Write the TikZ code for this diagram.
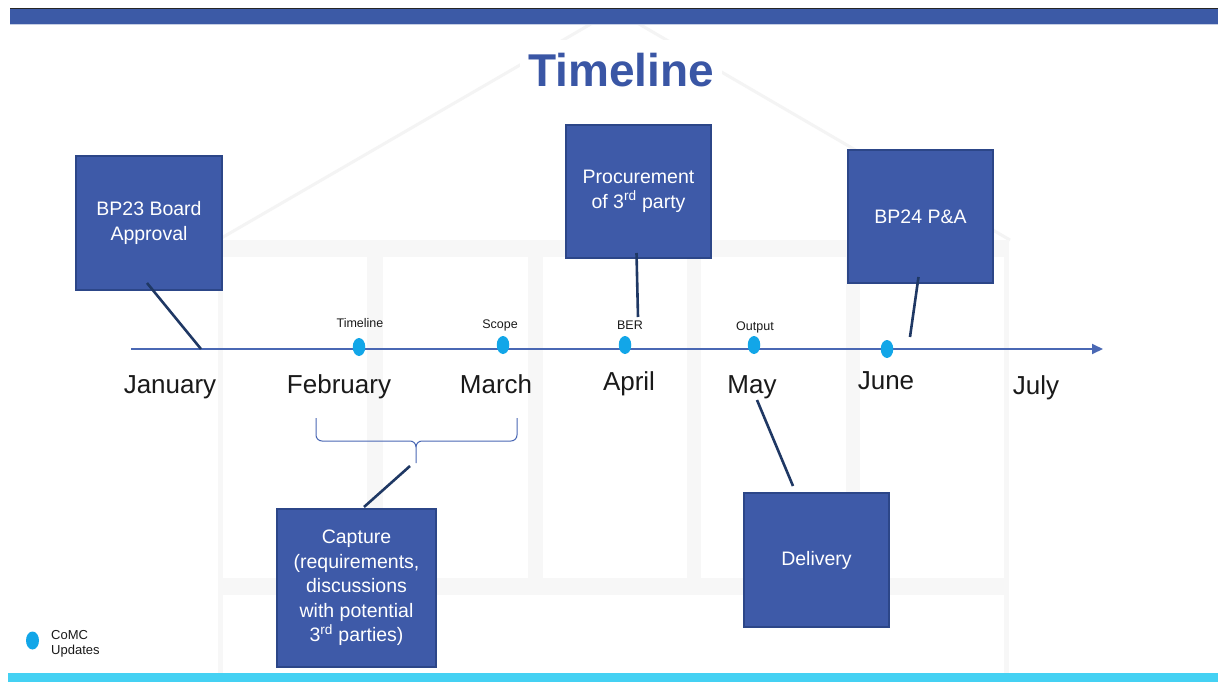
\documentclass[tikz,border=0pt]{standalone}
\usepackage{fontspec}
\setmainfont{Liberation Sans}
\usetikzlibrary{arrows.meta,shapes.geometric}
\definecolor{boxfill}{HTML}{3E5AA8}
\definecolor{boxborder}{HTML}{2C4688}
\definecolor{navy}{HTML}{1F3864}
\definecolor{axisblue}{HTML}{4A68B4}
\definecolor{dotcyan}{HTML}{12A6E8}
\definecolor{topblue}{HTML}{3C5AA6}
\definecolor{bottomcyan}{HTML}{44D1F3}
\definecolor{titleblue}{HTML}{3A56A5}
\definecolor{gapgrey}{HTML}{F7F7F7}
\definecolor{roofgrey}{HTML}{F4F4F4}
\definecolor{textdark}{HTML}{1A1A1A}
\tikzset{
  box/.style={draw=boxborder, line width=1.6pt, fill=boxfill, text=white,
    inner sep=0pt, align=center, font=\fontsize{19.5}{24.5}\selectfont},
  conn/.style={draw=navy, line width=2.6pt},
  dot/.style={ellipse, fill=dotcyan, inner sep=0pt, minimum width=12.5pt, minimum height=18pt},
  month/.style={anchor=base, text=textdark, inner sep=0pt, font=\fontsize{26}{30}\selectfont},
  small/.style={anchor=base, text=textdark, inner sep=0pt, font=\fontsize{12.5}{15}\selectfont},
}
\begin{document}
\begin{tikzpicture}[x=1pt,y=-1pt]
\useasboundingbox (0,0) rectangle (1218,682);
\fill[white] (0,0) rectangle (1218,682);
% faint background building
\draw[roofgrey, line width=3pt] (218,240) -- (615,10) -- (1010,240);
\fill[gapgrey] (218,240) rectangle (1009,673);
\foreach \a/\b in {223/367,383/528,543/687,701/846,860/1004}{
  \fill[white] (\a,257) rectangle (\b,578);
}
\fill[white] (223,595) rectangle (1004,673);
% top and bottom bars
\fill[black!85] (10,8) rectangle (1218,9.5);
\fill[topblue] (10,9.5) rectangle (1218,24);
\fill[topblue!30] (10,24) rectangle (1218,25.5);
\fill[bottomcyan] (8,673) rectangle (1218,682);
% title
\fill[white] (520,40) rectangle (722,96);
\node[anchor=base, text=titleblue, inner sep=0pt, font=\fontsize{46}{50}\selectfont\bfseries] (title) at (621,87) {Timeline};
% axis
\coordinate (axstart) at (131,349);
\coordinate (axend) at (1103,349);
\draw[axisblue, line width=1.8pt, -{Triangle[length=11pt,width=10pt]}] (axstart) -- (axend);
% dots
\node[dot] (dtimeline) at (359,347) {};
\node[dot] (dscope) at (503,345) {};
\node[dot] (dber) at (625,345) {};
\node[dot] (doutput) at (754,345) {};
\node[dot] (djune) at (887,349) {};
% small labels
\node[small] (ltimeline) at (360,327) {Timeline};
\node[small] (lscope) at (500,328) {Scope};
\node[small] (lber) at (630,329) {BER};
\node[small] (loutput) at (755,330) {Output};
% months
\node[month] (jan) at (170,393) {January};
\node[month] (feb) at (339,393) {February};
\node[month] (mar) at (496,393) {March};
\node[month] (apr) at (629,390) {April};
\node[month] (may) at (752,393) {May};
\node[month] (jun) at (886,389) {June};
\node[month] (jul) at (1036,394) {July};
% boxes
\node[box, minimum width=146pt, minimum height=134pt] (bp23) at (149,223) {BP23 Board\\Approval};
\node[box, minimum width=145pt, minimum height=133pt] (proc) at (638.5,191.5) {Procurement\\of 3\textsuperscript{rd} party};
\node[box, minimum width=145pt, minimum height=133pt] (bp24) at (920.5,216.5) {BP24 P\&A};
\node[box, minimum width=159pt, minimum height=158pt] (capture) at (356.5,588) {Capture\\(requirements,\\discussions\\with potential\\3\textsuperscript{rd} parties)};
\node[box, minimum width=145pt, minimum height=134pt] (delivery) at (816.5,560) {Delivery};
% connectors
\coordinate (c1a) at (147,283);
\coordinate (c1b) at (201,349);
\draw[conn] (c1a) -- (c1b);
\coordinate (c2a) at (636.5,253);
\coordinate (c2b) at (638,317);
\draw[conn] (c2a) -- (c2b);
\coordinate (c3a) at (918.5,277);
\coordinate (c3b) at (910,337);
\draw[conn] (c3a) -- (c3b);
\coordinate (c4a) at (757,400);
\coordinate (c4b) at (793,486);
\draw[conn] (c4a) -- (c4b);
\coordinate (c5a) at (410,466);
\coordinate (c5b) at (364,507);
\draw[conn] (c5a) -- (c5b);
% brace
\coordinate (brl) at (316,418);
\coordinate (brr) at (517,418);
\coordinate (brtip) at (416,463);
\draw[axisblue, line width=1pt] (brl) -- (316,435) to[out=-90,in=180] (322,441) -- (410,441) to[out=0,in=90] (416,447) -- (brtip);
\draw[axisblue, line width=1pt] (brr) -- (517,435) to[out=-90,in=0] (511,441) -- (422,441) to[out=180,in=90] (416,447);
% legend
\node[dot, minimum width=13pt] (legdot) at (32.5,640.5) {};
\node[anchor=base west, inner sep=0pt, text=textdark, font=\fontsize{13}{15}\selectfont] (legtext1) at (51,639) {CoMC};
\node[anchor=base west, inner sep=0pt, text=textdark, font=\fontsize{13}{15}\selectfont] (legtext2) at (51,654) {Updates};
\end{tikzpicture}
\end{document}
